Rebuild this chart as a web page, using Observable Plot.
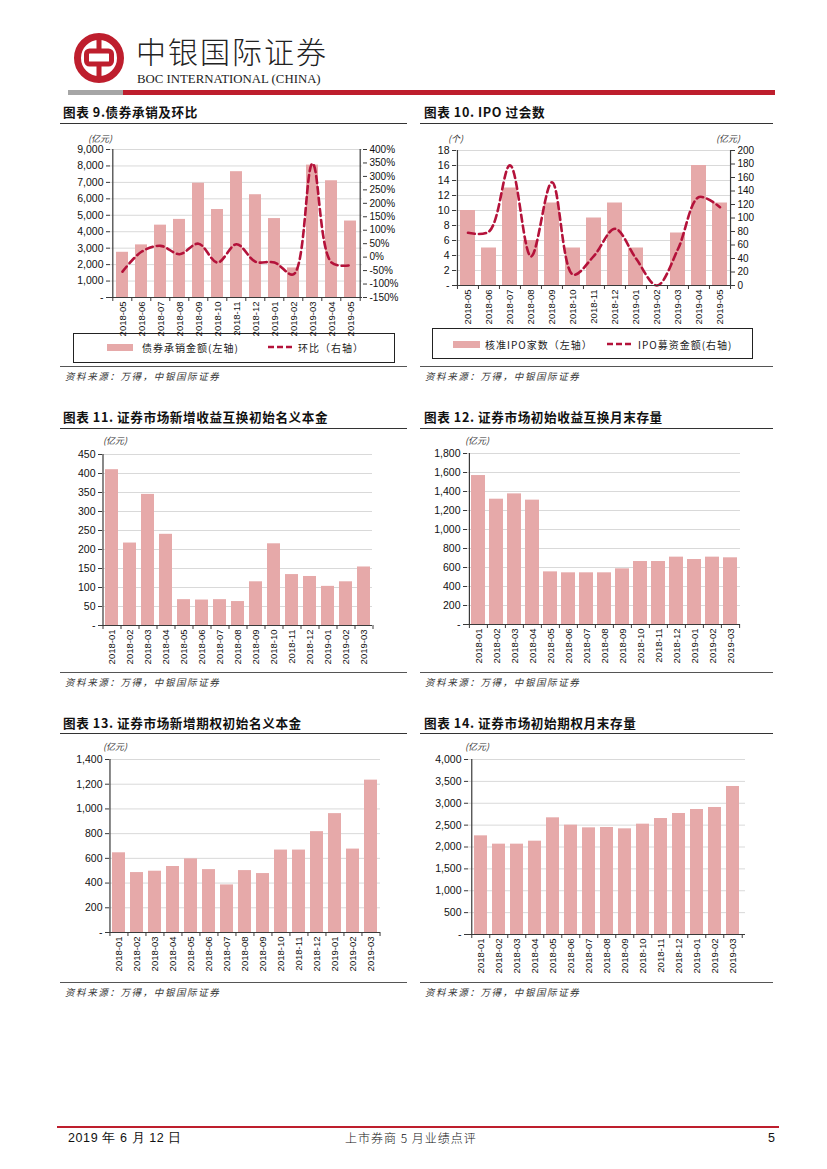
<!DOCTYPE html>
<html><head><meta charset="utf-8">
<script src="https://cdn.jsdelivr.net/npm/d3@7"></script>
<script src="https://cdn.jsdelivr.net/npm/@observablehq/plot@0.6"></script>
<style>
body{margin:0;background:#fff;}
#page{position:relative;width:827px;height:1169px;overflow:hidden;background:#fff;font-family:"Liberation Sans",Arial,"Noto Sans CJK SC",sans-serif;}
.abs{position:absolute;white-space:nowrap;}
.title{position:absolute;white-space:nowrap;font-family:"Noto Sans CJK SC";font-weight:700;font-size:12.6px;line-height:14px;letter-spacing:0.6px;color:#111;}
.hr{position:absolute;height:0;border-top:1.3px solid #333;}
.src{position:absolute;white-space:nowrap;font-family:"Noto Sans CJK SC";font-style:italic;font-size:9.5px;line-height:11px;letter-spacing:1.6px;color:#333;}
.unit{position:absolute;white-space:nowrap;font-family:"Noto Sans CJK SC";font-style:italic;font-size:9px;line-height:10px;color:#333;}
.legend{position:absolute;border:1px solid #222;box-sizing:border-box;}
.ltext{position:absolute;white-space:nowrap;font-family:"Noto Sans CJK SC";font-size:10px;line-height:11px;color:#222;letter-spacing:1px;}
.plotbox{position:absolute;}
</style>
</head><body>
<div id="page">
  <!-- header -->
  <svg class="abs" style="left:70px;top:30px" width="60" height="60">
    <circle cx="29" cy="28" r="21.5" fill="none" stroke="#BE1E2D" stroke-width="7"/>
    <rect x="26.5" y="8" width="5" height="40" fill="#BE1E2D"/>
    <rect x="16.5" y="21" width="25" height="13" rx="3" fill="#fff" stroke="#BE1E2D" stroke-width="5"/>
  </svg>
  <div class="abs" style="left:136px;top:32px;font-family:'Noto Sans CJK SC';font-weight:300;font-size:30px;line-height:36px;letter-spacing:2px;color:#222;">中银国际证券</div>
  <div class="abs" style="left:137px;top:72px;font-family:'Liberation Serif',serif;font-size:12.8px;line-height:14px;color:#222;">BOC INTERNATIONAL (CHINA)</div>
  <div class="abs" style="left:68px;top:90px;width:55px;height:5px;background:#A6A6A6;"></div>
  <div class="abs" style="left:123px;top:90px;width:652px;height:5px;background:#BE1E2D;"></div>

  <!-- titles and rules -->
  <div class="title" style="left:63px;top:105px;">图表 9.债券承销及环比</div>
  <div class="hr" style="left:60px;top:123px;width:347px;"></div>
  <div class="title" style="left:424px;top:105px;">图表 10. IPO 过会数</div>
  <div class="hr" style="left:420px;top:123px;width:353px;"></div>

  <div class="title" style="left:63px;top:410px;">图表 11. 证券市场新增收益互换初始名义本金</div>
  <div class="hr" style="left:60px;top:428px;width:347px;"></div>
  <div class="title" style="left:424px;top:410px;">图表 12. 证券市场初始收益互换月末存量</div>
  <div class="hr" style="left:420px;top:428px;width:353px;"></div>

  <div class="title" style="left:63px;top:716px;">图表 13. 证券市场新增期权初始名义本金</div>
  <div class="hr" style="left:60px;top:733px;width:347px;"></div>
  <div class="title" style="left:424px;top:716px;">图表 14. 证券市场初始期权月末存量</div>
  <div class="hr" style="left:420px;top:733px;width:353px;"></div>

  <!-- sources -->
  <div class="hr" style="left:60px;top:366px;width:347px;border-top-color:#555;"></div>
  <div class="src" style="left:65px;top:371px;">资料来源：万得，中银国际证券</div>
  <div class="hr" style="left:420px;top:366px;width:353px;border-top-color:#555;"></div>
  <div class="src" style="left:425px;top:371px;">资料来源：万得，中银国际证券</div>
  <div class="hr" style="left:60px;top:672px;width:347px;border-top-color:#555;"></div>
  <div class="src" style="left:65px;top:677px;">资料来源：万得，中银国际证券</div>
  <div class="hr" style="left:420px;top:672px;width:353px;border-top-color:#555;"></div>
  <div class="src" style="left:425px;top:677px;">资料来源：万得，中银国际证券</div>
  <div class="hr" style="left:60px;top:982px;width:347px;border-top-color:#555;"></div>
  <div class="src" style="left:65px;top:987px;">资料来源：万得，中银国际证券</div>
  <div class="hr" style="left:420px;top:982px;width:353px;border-top-color:#555;"></div>
  <div class="src" style="left:425px;top:987px;">资料来源：万得，中银国际证券</div>

  <!-- units -->
  <div class="unit" style="left:88px;top:134px;">(亿元)</div>
  <div class="unit" style="left:448px;top:134px;">(个)</div>
  <div class="unit" style="left:716px;top:134px;">(亿元)</div>
  <div class="unit" style="left:103px;top:436px;">(亿元)</div>
  <div class="unit" style="left:465px;top:436px;">(亿元)</div>
  <div class="unit" style="left:103px;top:742px;">(亿元)</div>
  <div class="unit" style="left:465px;top:742px;">(亿元)</div>

  <!-- legends -->
  <div class="legend" style="left:73px;top:333px;width:322px;height:30px;"></div>
  <div class="abs" style="left:107px;top:344px;width:26px;height:7px;background:#E6A9A9;"></div>
  <div class="ltext" style="left:142px;top:342px;">债券承销金额(左轴)</div>
  <svg class="abs" style="left:266px;top:342px" width="30" height="10"><line x1="2" y1="5" x2="28" y2="5" stroke="#B4123A" stroke-width="2.5" stroke-dasharray="6,3"/></svg>
  <div class="ltext" style="left:298px;top:342px;">环比（右轴）</div>

  <div class="legend" style="left:432px;top:328px;width:321px;height:31px;"></div>
  <div class="abs" style="left:453px;top:341px;width:27px;height:7px;background:#E6A9A9;"></div>
  <div class="ltext" style="left:485px;top:339px;">核准IPO家数（左轴）</div>
  <svg class="abs" style="left:605px;top:339px" width="30" height="10"><line x1="2" y1="5" x2="28" y2="5" stroke="#B4123A" stroke-width="2.5" stroke-dasharray="6,3"/></svg>
  <div class="ltext" style="left:638px;top:339px;">IPO募资金额(右轴)</div>

  <!-- footer -->
  <div class="abs" style="left:57px;top:1126px;width:722px;height:1.5px;background:#BE1E2D;"></div>
  <div class="abs" style="left:68px;top:1131px;font-family:'Liberation Sans Narrow','Liberation Sans',sans-serif;font-size:12.5px;line-height:14px;letter-spacing:0.6px;color:#111;">2019 年 6 月 12 日</div>
  <div class="abs" style="left:345px;top:1131px;font-family:'Noto Sans CJK SC';font-weight:300;font-size:12px;line-height:14px;letter-spacing:1px;color:#111;">上市券商 5 月业绩点评</div>
  <div class="abs" style="left:768px;top:1131px;font-family:'Liberation Sans Narrow','Liberation Sans',sans-serif;font-size:12.5px;line-height:14px;color:#111;">5</div>
</div>
<script>
// ---------- data ----------
const months13 = ["2018-05","2018-06","2018-07","2018-08","2018-09","2018-10","2018-11","2018-12","2019-01","2019-02","2019-03","2019-04","2019-05"];
const bondAmount = [2750,3200,4400,4750,6950,5350,7650,6250,4800,1800,8050,7100,4650];
const bondQoQ = [-54,20,42,11,50,-20,48,-17,-20,-64,348,-20,-30];
const ipoCount = [10,5,13,6,11,5,9,11,5,0,7,16,11];
const ipoAmount = [78,80,178,43,153,16,44,84,40,0,54,131,116];

const months15 = ["2018-01","2018-02","2018-03","2018-04","2018-05","2018-06","2018-07","2018-08","2018-09","2018-10","2018-11","2018-12","2019-01","2019-02","2019-03"];
const swapNew = [410,217,345,240,68,67,68,63,115,215,134,129,103,115,154];
const swapStock = [1568,1319,1375,1309,554,544,544,544,586,663,663,709,684,709,702];
const optionNew = [645,485,496,534,596,509,385,501,477,667,667,816,962,675,1233];
const optionStock = [2255,2065,2065,2133,2667,2499,2438,2446,2415,2522,2651,2766,2857,2903,3383];

const ticks9L = d3.range(0, 9001, 1000);
const ticks9R = d3.range(-150, 401, 50);
const ticks10L = d3.range(0, 19, 2);
const ticks10R = d3.range(0, 201, 20);
const ticks11 = d3.range(0, 451, 50);
const ticks12 = d3.range(0, 1801, 200);
const ticks13 = d3.range(0, 1401, 200);
const ticks14 = d3.range(0, 4001, 500);

// ---------- styles ----------
const BAR = "#E6A9A9";
const AX = "#3a3a3a";
const LINE = "#B4123A";
const comma = d3.format(",");
const dashZero = d => d === 0 ? "-" : comma(d);

function chart(o) {
  const {cats, values, left, top, width, height, mL, mR, mT, mB, yMax, ticks, fmt, pad, extra = [], rightAxis = null} = o;
  const n = cats.length;
  const step = (width - mL - mR) / n;
  const data = cats.map((c, i) => ({c, v: values[i]}));
  const marks = [
    Plot.gridY(ticks.filter(d => d !== 0), {stroke: "#d9d9d9", strokeOpacity: 1, strokeWidth: 1}),
    Plot.barY(data, {x: "c", y: "v", fill: BAR}),
    ...extra,
    Plot.ruleY([0], {stroke: AX, strokeWidth: 1.2}),
    Plot.ruleX([cats[0]], {dx: -step / 2, stroke: AX, strokeWidth: 1.2}),
    Plot.ruleX(cats, {x: d => d, y1: 0, y2: 0, insetBottom: -4, dx: -step / 2, stroke: AX}),
    Plot.ruleX([cats[n - 1]], {x: d => d, y1: 0, y2: 0, insetBottom: -4, dx: step / 2, stroke: AX}),
    Plot.axisY(ticks, {tickSize: 4, tickPadding: 3, tickFormat: fmt, stroke: AX, fill: "#111", fontSize: 10.5}),
    Plot.axisX({tickRotate: -90, tickSize: 0, tickPadding: 4, fontSize: 9.5, fill: "#111"})
  ];
  if (rightAxis) {
    marks.push(Plot.ruleX([cats[n - 1]], {dx: step / 2, stroke: AX, strokeWidth: 1.2}));
    marks.push(Plot.axisY(rightAxis.ticks, {anchor: "right", tickSize: 4, tickPadding: 3, tickFormat: rightAxis.fmt, stroke: AX, fill: "#111", fontSize: 10}));
  }
  const svg = Plot.plot({
    width, height,
    marginLeft: mL, marginRight: mR, marginTop: mT, marginBottom: mB,
    style: {fontFamily: "'Liberation Sans', Arial, sans-serif", fontSize: "10px", background: "transparent", overflow: "visible"},
    x: {type: "band", domain: cats, paddingInner: pad, paddingOuter: pad / 2, label: null},
    y: {domain: [0, yMax], label: null},
    marks
  });
  const wrap = document.createElement("div");
  wrap.className = "plotbox";
  wrap.style.left = left + "px";
  wrap.style.top = top + "px";
  wrap.appendChild(svg);
  document.getElementById("page").appendChild(wrap);
}

// chart 9: bond underwriting + QoQ (right axis)
const r9 = r => (r + 150) / 550 * 9000;
chart({
  cats: months13, values: bondAmount, left: 60, top: 135, width: 347, height: 200,
  mL: 50, mR: 45, mT: 14, mB: 38, yMax: 9000, ticks: ticks9L, fmt: dashZero, pad: 0.37,
  extra: [Plot.line(months13.map((c, i) => ({c, r: bondQoQ[i]})), {x: "c", y: d => r9(d.r), stroke: LINE, strokeWidth: 2.6, strokeDasharray: "7,4", curve: "catmull-rom"})],
  rightAxis: {ticks: ticks9R.map(r9), fmt: d => Math.round(d / 9000 * 550 - 150) + "%"}
});

// chart 10: IPO
const r10 = a => a / 200 * 18;
chart({
  cats: months13, values: ipoCount, left: 415, top: 135, width: 358, height: 190,
  mL: 41, mR: 43, mT: 15, mB: 40, yMax: 18, ticks: ticks10L, fmt: d => d === 0 ? "-" : String(d), pad: 0.29,
  extra: [Plot.line(months13.map((c, i) => ({c, a: ipoAmount[i]})), {x: "c", y: d => r10(d.a), stroke: LINE, strokeWidth: 2.6, strokeDasharray: "7,4", curve: "catmull-rom"})],
  rightAxis: {ticks: ticks10R.map(r10), fmt: d => String(Math.round(d / 18 * 200))}
});

// chart 11
chart({cats: months15, values: swapNew, left: 60, top: 440, width: 340, height: 225,
  mL: 42, mR: 28, mT: 14, mB: 40, yMax: 450, ticks: ticks11, fmt: dashZero, pad: 0.3});
// chart 12
chart({cats: months15, values: swapStock, left: 415, top: 440, width: 345, height: 225,
  mL: 52, mR: 20, mT: 13, mB: 41, yMax: 1800, ticks: ticks12, fmt: dashZero, pad: 0.25});
// chart 13
chart({cats: months15, values: optionNew, left: 60, top: 745, width: 340, height: 230,
  mL: 49, mR: 20, mT: 14, mB: 43, yMax: 1400, ticks: ticks13, fmt: dashZero, pad: 0.3});
// chart 14
chart({cats: months15, values: optionStock, left: 415, top: 745, width: 345, height: 230,
  mL: 53, mR: 15, mT: 14, mB: 41, yMax: 4000, ticks: ticks14, fmt: dashZero, pad: 0.28});
</script>
</body></html>
